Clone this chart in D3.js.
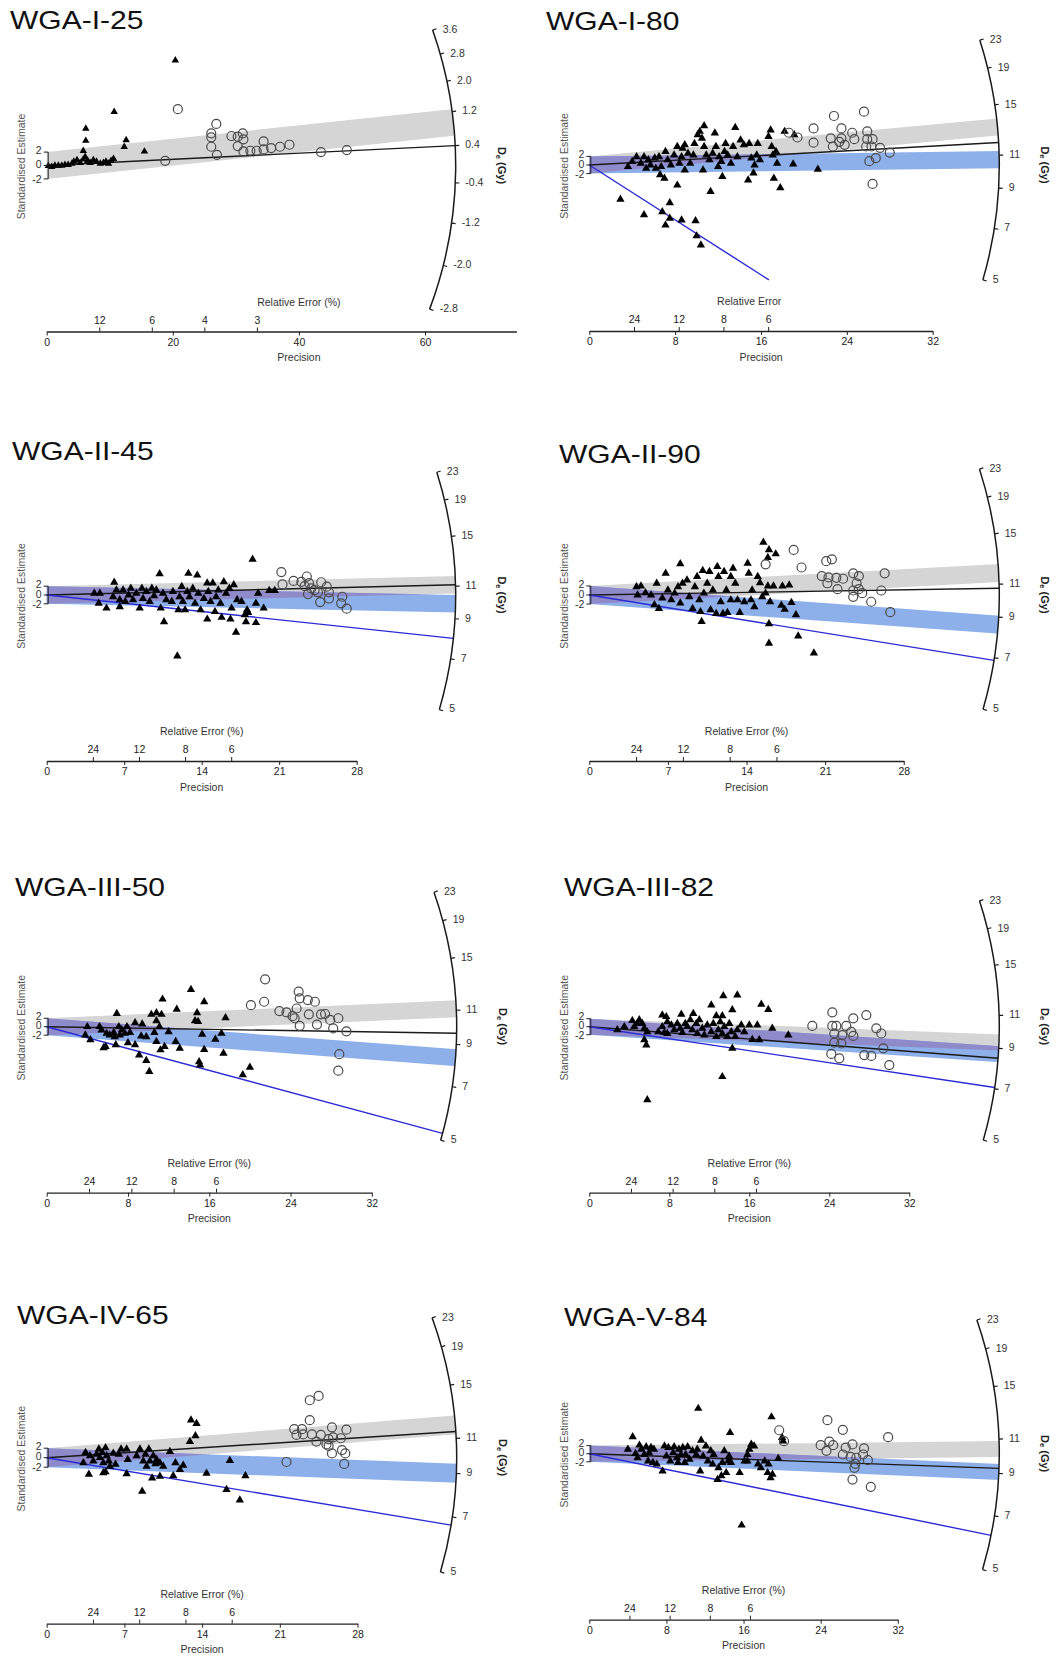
<!DOCTYPE html>
<html>
<head>
<meta charset="utf-8">
<script src="https://cdn.jsdelivr.net/npm/d3@7"></script>
<style>
  body { margin: 0; background: #fff; }
  svg { display: block; }
  text { font-family: "Liberation Sans", Arial, sans-serif; }
</style>
</head>
<body>
<svg id="chart" width="1062" height="1661"></svg>
<script>
// ---- data ----
const titles = ["WGA-I-25", "WGA-I-80", "WGA-II-45", "WGA-II-90", "WGA-III-50", "WGA-III-82", "WGA-IV-65", "WGA-V-84"];
const relErrTitles = ["Relative Error (%)", "Relative Error", "Relative Error (%)", "Relative Error (%)",
                      "Relative Error (%)", "Relative Error (%)", "Relative Error (%)", "Relative Error (%)"];
const precisionTicks = [[0, 20, 40, 60], [0, 8, 16, 24, 32], [0, 7, 14, 21, 28], [0, 7, 14, 21, 28],
                        [0, 8, 16, 24, 32], [0, 8, 16, 24, 32], [0, 7, 14, 21, 28], [0, 8, 16, 24, 32]];
const relErrTicks = [[12, 6, 4, 3], [24, 12, 8, 6], [24, 12, 8, 6], [24, 12, 8, 6],
                     [24, 12, 8, 6], [24, 12, 8, 6], [24, 12, 8, 6], [24, 12, 8, 6]];
const deTicksI25 = [3.6, 2.8, 2.0, 1.2, 0.4, -0.4, -1.2, -2.0, -2.8];
const deTicks = [5, 7, 9, 11, 15, 19, 23];
const deOffset = [9.33, 0, 0, 0, 0, 0, 0, 0];          // log(De + offset) transform
const centralDe = [-0.036, 10.36, 10.42, 10.3, 9.99, 10.27, 9.85, 10.1];
const blackLineDe = [0.4, 11.88, 11.1, 10.73, 9.61, 8.47, 11.44, 9.27];
const greyBandDe = [0.94, 13.07, 11.1, 11.77, 11.1, 9.33, 11.88, 10.38];
const blueBandDe = [null, 10.7, 9.87, 8.6, 8.33, 8.68, 9.01, 9.08];
const blueLineDe = [null, 2.1, 7.97, 6.89, 5.23, 7.06, 6.67, 6.22];

// points: [precision, standardised estimate]
const triI25 = [[0.26,-0.07],[0.8,-0.2],[1.3,0],[1.85,0],[2.4,0],[2.9,0.1],[3.4,0.1],[4.0,0.3],[4.3,0.6],[4.8,0.8],
  [5.3,0.4],[5.8,0.9],[6.1,1.3],[6.5,0.7],[6.9,0.4],[7.4,0.8],[7.9,0.6],[8.5,0.3],[9.0,0.4],[9.4,0.6],[9.8,0.3],
  [10.2,0.7],[10.6,1.0],[20.4,15.7],[10.7,8.0],[6.2,5.5],[6.2,3.7],[5.8,2.2],[12.6,3.8],[12.3,2.8],[15.5,2.1]];
const circI25 = [[20.8,8.4],[18.8,0.7],[26.9,6.2],[26.1,4.8],[26.1,4.2],[26.1,2.8],[27.0,1.6],[29.3,4.4],[30.3,4.3],
  [31.1,4.8],[31.2,3.9],[30.3,2.9],[31.2,2.1],[32.3,2.2],[33.3,2.2],[34.4,2.4],[34.4,3.6],[35.6,2.6],[37.0,2.8],
  [38.5,3.1],[43.5,2.0],[47.6,2.3]];

const triI80 = [[2.9,-8.0],[5.1,-11.6],[6.8,-10.9],[7.5,-8.8],[7.1,-14.0],[7.5,-12.4],[8.6,-12.8],[9.9,-13.0],[10.0,-16.5],
  [10.4,-18.6],[3.6,-0.4],[4.0,0.8],[4.4,1.9],[4.8,0.4],[5.1,1.9],[5.3,-0.8],[5.5,1.2],[5.7,0],[6.1,1.6],[6.2,-0.8],
  [6.5,1.9],[6.6,-2.3],[6.7,-0.4],[7.0,-3.1],[7.1,3.1],[7.3,1.2],[7.6,0],[7.9,2.3],[8.2,4.3],[8.2,-4.7],[8.4,0.4],
  [8.6,1.9],[8.7,3.9],[8.9,4.7],[8.9,-1.2],[9.2,2.7],[9.4,0.4],[9.7,2.3],[9.8,5.0],[10.1,7.0],[10.3,7.8],[10.5,6.2],
  [10.6,-1.2],[10.7,9.1],[10.7,4.3],[10.9,2.3],[11.2,1.2],[11.3,-6.2],[11.5,2.7],[11.7,7.4],[11.8,4.3],[12.0,-0.4],
  [12.1,1.9],[12.3,0.8],[12.4,-2.7],[12.6,3.1],[12.7,5.0],[12.9,2.3],[13.2,0.4],[13.4,4.3],[13.6,8.7],[13.8,1.9],
  [14.1,5.8],[14.4,4.7],[14.8,-3.5],[14.9,5.0],[15.1,1.6],[15.3,-1.9],[15.4,0],[15.6,2.3],[15.7,5.0],[15.9,1.2],
  [16.7,6.6],[16.9,8.1],[17.0,4.3],[17.1,2.3],[17.2,-3.1],[17.4,3.1],[17.5,0.4],[17.8,-5.3],[18.2,7.8],[19.0,0.2],
  [19.1,7.0],[21.3,-1.0]];
const circI80 = [[18.6,7.5],[19.4,6.4],[20.9,8.5],[20.9,5.2],[22.8,11.4],[22.5,6.2],[22.7,4.3],[23.5,8.5],[23.5,6.2],
  [23.3,5.4],[23.8,4.7],[24.5,7.5],[24.7,6.0],[25.6,12.4],[25.9,7.8],[25.9,6.0],[25.8,4.3],[26.4,6.0],[26.3,4.3],
  [27.1,4.0],[28.0,2.9],[26.1,0.9],[26.7,1.6],[26.4,-4.4]];

const triII45 = [[18.6,8.1],[10.2,4.8],[12.8,4.9],[13.6,4.5],[6.1,2.9],[11.8,-13.9],[17.1,-8.5],[6.6,-2.7],[10.6,-6.1],
  [14.5,-5.5],[15.8,-5.1],[16.6,-5.5],[18.0,-6.1],[18.9,-6.3],[17.9,-4.5],[19.1,0.4],[19.6,-3.0],[18.9,-1.9],[20.1,1.0],
  [20.6,1.0],[4.3,0.4],[4.8,0.4],[4.7,-1.9],[5.4,-3.0],[6.0,-0.4],[6.3,1.1],[6.6,-1.1],[6.9,1.1],[7.1,-1.5],[7.4,0],
  [7.6,1.5],[7.8,-1.1],[8.1,0.4],[8.4,-3.0],[8.6,1.5],[8.7,-0.8],[9.0,0.8],[9.3,-1.5],[9.5,1.5],[9.7,-0.2],[9.9,1.1],
  [10.3,-3.0],[10.5,0.4],[10.8,-1.1],[11.3,-1.5],[11.4,0.8],[11.9,-3.4],[12.0,-0.4],[12.2,1.9],[12.3,-1.5],[12.5,-3.4],
  [12.7,0.8],[12.9,-0.4],[13.2,1.5],[13.4,-1.9],[13.7,0.4],[13.9,-3.4],[14.2,-0.8],[14.5,2.7],[14.6,0.8],[14.8,-1.5],
  [15.0,2.7],[15.2,-3.8],[15.3,-0.4],[15.5,1.1],[15.7,-1.9],[16.0,3.0],[16.2,0.4],[16.5,1.5],[16.7,-3.0],[16.9,2.3],
  [17.2,-1.1],[17.6,-1.5],[18.1,-3.4],[18.2,-4.0]];
const circII45 = [[21.2,5.2],[21.3,2.4],[22.3,3.2],[23.0,3.0],[23.5,4.2],[23.3,2.0],[23.7,2.7],[23.9,1.5],[23.6,0.2],
  [24.2,1.1],[24.8,2.9],[24.5,0.6],[24.7,-1.6],[25.3,1.9],[25.5,0.6],[25.5,-0.8],[26.7,-0.4],[26.6,-1.9],[27.1,-3.1]];

const triII90 = [[15.5,11.7],[15.9,8.3],[16.0,10.0],[16.6,9.1],[8.1,6.9],[6.8,4.8],[6.0,2.6],[4.2,1.8],[4.6,2.0],[4.3,0],
  [5.0,0.5],[5.5,0],[5.8,-2.2],[6.2,-3.0],[6.5,-0.7],[7.0,1.1],[7.3,-1.1],[7.6,0.4],[7.9,1.8],[8.1,-1.8],[8.3,2.6],
  [8.7,3.3],[8.9,-0.4],[9.2,-3.0],[9.4,1.8],[9.6,4.1],[9.8,-1.1],[9.9,-3.7],[10.0,-5.9],[10.1,5.4],[10.2,0.4],[10.5,2.6],
  [10.7,5.2],[10.8,-3.3],[11.0,1.1],[11.3,-4.1],[11.4,6.3],[11.5,4.1],[11.7,-1.5],[11.9,-4.1],[12.0,5.2],[12.2,1.1],
  [12.3,-3.9],[12.6,4.1],[12.6,-1.1],[12.8,5.9],[13.0,2.6],[13.2,-1.1],[13.4,-3.9],[13.8,-1.5],[14.1,7.0],[14.2,4.8],
  [14.4,-1.1],[14.5,1.1],[14.7,-2.6],[15.0,4.1],[15.2,2.7],[15.4,-0.4],[15.7,0.4],[15.9,2.0],[16.1,-1.5],[16.0,-6.4],
  [16.0,-10.7],[16.4,2.0],[17.1,-2.3],[17.2,2.0],[17.4,-3.2],[17.8,2.2],[18.0,-1.7],[18.4,-4.4],[18.6,-9.1],[20.0,-12.9]];
const circII90 = [[15.7,6.8],[18.2,10.0],[18.9,6.1],[21.1,7.5],[21.6,7.9],[20.7,4.2],[21.3,3.9],[21.2,2.6],[22.0,3.8],
  [22.6,3.6],[22.1,1.3],[23.5,4.8],[24.0,4.2],[23.8,2.6],[23.5,1.0],[24.0,1.3],[24.3,0.4],[23.5,-0.4],[25.1,-1.5],
  [26.0,1.0],[26.3,4.8],[26.8,-3.8]];

const triIII50 = [[14.2,8.8],[11.4,6.5],[15.5,5.9],[12.8,4.1],[6.9,3.1],[10.3,2.9],[10.8,3.3],[11.3,2.9],[14.8,3.3],
  [17.6,2.1],[14.6,1.4],[14.9,1.2],[10.8,1.4],[8.7,0.9],[9.4,0.6],[4.0,0],[5.2,0],[5.4,-0.8],[3.8,-2.0],[4.3,-3.1],
  [5.9,-1.6],[6.2,-2.0],[6.6,-1.4],[6.7,-2.4],[7.1,0],[7.2,-2.0],[7.4,-0.8],[7.7,-1.6],[7.9,0],[8.2,-1.4],[5.6,-5.0],
  [5.8,-4.7],[6.8,-4.3],[8.0,-3.8],[8.7,-4.3],[9.1,-6.7],[9.8,-8.0],[10.1,-10.6],[9.3,-2.2],[9.8,-2.4],[10.6,-1.4],
  [10.8,-3.5],[11.1,0],[11.2,-5.5],[11.6,-4.7],[12.0,-1.2],[12.7,-3.5],[13.1,-5.1],[15.0,-8.3],[15.1,-9.1],[15.5,-5.4],
  [15.3,-1.8],[16.6,-3.0],[17.2,-1.6],[17.4,-6.3],[19.3,-11.4],[20.0,-9.6]];
const circIII50 = [[21.5,11.2],[21.4,5.9],[20.1,5.1],[22.9,3.7],[23.6,3.4],[24.2,2.5],[24.8,8.3],[24.9,6.7],[24.6,4.3],
  [24.4,2.0],[24.9,0.2],[25.7,6.3],[26.4,5.9],[25.8,2.9],[26.6,0.5],[27.0,2.9],[27.4,3.0],[27.9,1.6],[28.7,2.0],
  [28.2,-0.4],[29.5,-1.1],[28.8,-6.5],[28.7,-10.4]];

const triIII82 = [[13.4,7.7],[14.8,7.9],[12.2,5.4],[14.3,4.2],[17.2,5.6],[17.9,4.3],[12.7,2.7],[13.3,2.7],[9.2,3.1],
  [10.4,3.3],[7.3,2.9],[7.7,2.5],[4.3,1.5],[5.0,1.7],[2.8,-0.8],[3.5,0],[4.5,0],[4.8,0.8],[5.3,0.8],[5.5,-0.4],
  [5.8,-1.3],[5.5,-3.3],[5.7,-4.6],[5.8,-18.3],[6.9,-1.3],[7.3,0],[7.5,-1.5],[7.8,-1.7],[7.8,1.2],[8.2,0.4],[8.5,-0.8],
  [8.8,0.8],[9.1,-0.4],[9.3,-1.5],[9.6,0.8],[9.8,0],[10.1,1.7],[10.3,-0.8],[10.7,0.8],[10.8,-1.7],[11.0,1.7],[11.3,-0.4],
  [11.5,-2.1],[11.8,0.4],[12.2,-1.3],[12.4,0.8],[12.7,-2.5],[12.9,-0.8],[13.1,1.2],[13.3,-1.7],[13.5,0],[13.8,-2.5],
  [14.0,0.8],[14.2,-1.3],[14.3,-5.4],[14.6,-2.5],[14.8,-0.8],[15.2,0.4],[15.5,-1.3],[16.0,0.4],[16.3,-3.2],[16.8,0.4],
  [17.0,-3.3],[18.3,-0.4],[19.9,-2.1],[13.3,-12.5]];
const circIII82 = [[22.3,0.2],[24.3,3.6],[24.3,0.2],[24.7,0.2],[24.5,-1.7],[25.7,0.2],[25.3,-2.1],[25.2,-4.2],[24.5,-4.0],
  [24.2,-6.8],[25.0,-7.9],[26.4,2.1],[26.2,-1.3],[26.4,-2.3],[27.7,2.9],[28.7,-0.4],[29.2,-1.7],[29.4,-5.4],[27.5,-7.1],
  [28.2,-7.3],[30.0,-9.6]];

const triIV65 = [[13.0,7.9],[13.5,7.2],[13.4,4.6],[12.9,3.4],[11.1,1.3],[16.5,-0.6],[3.5,1.1],[3.9,0.4],[3.3,-1.1],
  [3.8,-3.5],[4.2,-0.7],[4.5,0.7],[4.7,1.8],[4.8,0],[5.0,1.1],[5.1,-1.1],[5.3,2.1],[5.4,0.4],[5.6,-0.7],[5.1,-3.2],
  [5.3,-3.0],[5.7,-1.8],[6.0,0.9],[6.2,-1.4],[6.5,0.7],[6.7,1.8],[7.2,1.8],[7.3,-0.4],[7.2,-3.4],[8.1,0.4],[8.4,1.8],
  [8.6,-7.1],[8.7,-0.7],[8.9,0.7],[9.0,-1.8],[9.2,1.8],[9.3,-0.7],[9.5,-4.3],[9.6,0.4],[9.8,-1.3],[9.9,-0.4],[10.2,-3.9],
  [10.2,-1.1],[10.5,-1.8],[11.6,-1.1],[11.4,-3.8],[12.0,-2.5],[12.3,-1.6],[14.4,-3.3],[16.2,-6.7],[17.9,-3.8],[17.4,-8.9]];
const circIV65 = [[21.6,-0.9],[23.7,12.1],[24.5,13.0],[23.7,7.9],[22.3,6.0],[23.0,6.0],[22.5,4.8],[23.1,4.9],[23.9,4.9],
  [24.3,3.4],[24.7,4.8],[25.2,2.8],[25.4,3.9],[25.7,6.4],[25.8,4.3],[25.7,0.9],[26.5,4.1],[27.0,5.9],[26.6,1.6],
  [26.9,0.9],[26.8,-1.3],[25.4,2.5]];

const triV84 = [[11.3,11.2],[18.9,9.1],[4.5,4.2],[14.6,5.2],[11.6,3.3],[20.0,4.0],[20.1,3.1],[4.0,1.1],[5.2,2.1],[5.4,1.1],
  [5.9,1.7],[6.4,1.5],[6.7,1.1],[4.8,0],[5.0,-1.0],[5.7,-0.2],[6.1,-1.8],[6.2,0.2],[6.6,-2.2],[7.0,-2.6],[7.6,-4.3],
  [7.8,1.9],[8.0,-0.6],[8.2,1.5],[8.4,-1.8],[8.7,0.2],[8.8,1.7],[9.1,-1.0],[9.2,-2.2],[9.3,1.1],[9.5,-0.2],[9.7,1.5],
  [9.9,-2.2],[10.0,-0.2],[10.2,1.7],[10.4,-1.4],[10.7,0.7],[11.1,-0.2],[11.2,1.1],[11.5,-4.3],[11.8,-0.6],[12.1,1.9],
  [12.3,-1.8],[12.6,0.7],[12.8,-2.6],[12.9,-0.2],[13.3,-6.4],[13.4,-3.5],[13.7,-5.5],[13.8,-2.2],[14.0,0.7],[14.2,-4.7],
  [14.4,-1.8],[14.5,-0.6],[14.7,-2.2],[15.6,-4.7],[15.8,-17.7],[16.1,-1.8],[16.4,-0.2],[16.6,1.1],[16.8,2.3],[17.1,1.9],
  [17.5,-2.6],[17.8,-3.5],[18.2,-1.8],[18.6,-2.6],[18.5,-4.7],[18.8,-6.0],[19.0,-5.1],[19.6,-1.2],[16.4,-1.8]];
const circV84 = [[19.7,5.8],[20.2,3.1],[24.7,8.3],[26.3,5.9],[24.0,2.1],[24.6,0.7],[24.9,3.0],[25.3,2.1],[26.3,-0.2],
  [26.6,1.5],[27.3,2.3],[27.1,-0.8],[27.7,-1.0],[27.6,-2.5],[27.5,-3.5],[28.5,1.3],[28.4,-0.2],[28.9,-1.6],[27.3,-6.4],
  [29.2,-8.2],[31.0,4.1]];

const triangles = [triI25, triI80, triII45, triII90, triIII50, triIII82, triIV65, triV84];
const circles = [circI25, circI80, circII45, circII90, circIII50, circIII82, circIV65, circV84];

// ---- layout (pixels) ----
const layout = [
  { ox: 46.7,  oy: 165.5,  kx: 6.305, ky: 6.7,  R: 409, axisEnd: 74.5, labelAt: 40, reAt: 40,   tx: 10,  ty: 28.5, tri: 24 },
  { ox: 589.3, oy: 165,    kx: 10.73, ky: 4.3,  R: 410, axisEnd: 32,   labelAt: 16, reAt: 14.9, tx: 546, ty: 30,   tri: 30 },
  { ox: 46.7,  oy: 595,    kx: 11.07, ky: 4.4,  R: 409, axisEnd: 28,   labelAt: 14, reAt: 14,   tx: 12,  ty: 460,  tri: 30 },
  { ox: 589.3, oy: 595,    kx: 11.23, ky: 4.51, R: 410, axisEnd: 28,   labelAt: 14, reAt: 14,   tx: 559, ty: 463,  tri: 30 },
  { ox: 46.7,  oy: 1026.7, kx: 10.16, ky: 4.23, R: 410, axisEnd: 32,   labelAt: 16, reAt: 16,   tx: 15,  ty: 896,  tri: 30 },
  { ox: 589.3, oy: 1026.7, kx: 10.0,  ky: 4.0,  R: 410, axisEnd: 32,   labelAt: 16, reAt: 16,   tx: 564, ty: 896,  tri: 30 },
  { ox: 46.7,  oy: 1457.7, kx: 11.1,  ky: 4.75, R: 410, axisEnd: 28,   labelAt: 14, reAt: 14,   tx: 17,  ty: 1324, tri: 30 },
  { ox: 589.3, oy: 1453.7, kx: 9.64,  ky: 4.04, R: 410, axisEnd: 32,   labelAt: 16, reAt: 16,   tx: 564, ty: 1326, tri: 30 }
];

const svg = d3.select("#chart");
svg.append("rect").attr("width", 1062).attr("height", 1661).attr("fill", "#fff");

titles.forEach((t, i) => drawRadial(i));

function drawRadial(i) {
  const L = layout[i];
  const g = svg.append("g");
  const x = d3.scaleLinear().domain([0, 1]).range([L.ox, L.ox + L.kx]);
  const y = d3.scaleLinear().domain([0, 1]).range([L.oy, L.oy - L.ky]);
  const c = deOffset[i], d0 = centralDe[i];
  const slope = D => Math.log((D + c) / (d0 + c));
  // unit pixel direction of the ray for a De value
  const dir = D => {
    const dx = x(1) - x(0), dy = y(slope(D)) - y(0);
    const n = Math.hypot(dx, dy);
    return [dx / n, dy / n];
  };
  const ticks = i === 0 ? deTicksI25 : deTicks;
  const R = L.R;
  const lowY = L.oy + R * dir(d3.min(ticks))[1];

  // clip everything inside the arc
  const clipId = "arcclip" + i;
  svg.append("clipPath").attr("id", clipId)
    .append("circle").attr("cx", L.ox).attr("cy", L.oy).attr("r", R);

  const pEnd = R * 1.3 / L.kx;
  const band = D => {
    const s = slope(D);
    return d3.line().x(d => x(d[0])).y(d => y(d[1]))([[0, -2], [0, 2], [pEnd, s * pEnd + 2], [pEnd, s * pEnd - 2]]) + "Z";
  };

  //bands
  const bands = g.append("g").attr("clip-path", `url(#${clipId})`);
  bands.append("path").attr("d", band(greyBandDe[i])).attr("fill", "#d5d5d5");
  if (blueBandDe[i] != null) {
    bands.append("path").attr("d", band(blueBandDe[i])).attr("fill", "#8db0ea");
    const ovId = "ov" + i;
    svg.append("clipPath").attr("id", ovId).append("path").attr("d", band(greyBandDe[i]));
    bands.append("path").attr("d", band(blueBandDe[i]))
      .attr("fill", "#8f8aca").attr("clip-path", `url(#${ovId})`);
  }

  //rays
  const ray = (D, color) => {
    const u = dir(D);
    let t = R;
    if (L.oy + t * u[1] > lowY) t = (lowY - L.oy) / u[1];
    g.append("line")
      .attr("x1", x(0)).attr("y1", y(0))
      .attr("x2", L.ox + t * u[0]).attr("y2", L.oy + t * u[1])
      .attr("stroke", color).attr("stroke-width", 1.4);
  };
  ray(blackLineDe[i], "#1a1a1a");
  if (blueLineDe[i] != null) ray(blueLineDe[i], "#2b2bd6");

  //points
  g.append("g").selectAll("path")
    .data(triangles[i])
    .join("path")
    .attr("transform", d => `translate(${x(d[0])},${y(d[1])})`)
    .attr("d", d3.symbol(d3.symbolTriangle, L.tri))
    .attr("fill", "#000");

  g.append("g").selectAll("circle")
    .data(circles[i])
    .join("circle")
    .attr("cx", d => x(d[0]))
    .attr("cy", d => y(d[1]))
    .attr("r", 4.5)
    .attr("fill", "none")
    .attr("stroke", "#4a4a4a")
    .attr("stroke-width", 1.2);

  //De arc
  const top = dir(d3.max(ticks)), bot = dir(d3.min(ticks));
  const p = d3.path();
  p.arc(L.ox, L.oy, R, Math.atan2(top[1], top[0]), Math.atan2(bot[1], bot[0]));
  g.append("path").attr("d", p.toString()).attr("fill", "none").attr("stroke", "#1a1a1a").attr("stroke-width", 1.5);

  const arcTicks = g.append("g");
  ticks.forEach(t => {
    const u = dir(t);
    arcTicks.append("line")
      .attr("x1", L.ox + R * u[0]).attr("y1", L.oy + R * u[1])
      .attr("x2", L.ox + (R + 4) * u[0]).attr("y2", L.oy + (R + 4) * u[1])
      .attr("stroke", "#1a1a1a").attr("stroke-width", 1.2);
    arcTicks.append("text")
      .attr("x", L.ox + R * u[0] + 10).attr("y", L.oy + R * u[1])
      .attr("dominant-baseline", "middle")
      .attr("font-size", 10.5).attr("fill", "#333")
      .text(i === 0 ? t.toFixed(1) : t);
  });

  const deLab = g.append("text")
    .attr("transform", `translate(${L.ox + R + 45},${L.oy}) rotate(90)`)
    .attr("text-anchor", "middle").attr("dominant-baseline", "middle")
    .attr("font-size", 11).attr("font-weight", "bold").attr("fill", "#222");
  deLab.append("tspan").text("D");
  deLab.append("tspan").attr("font-size", 7.5).attr("dy", 2.5).text("e");
  deLab.append("tspan").attr("dy", -2.5).text(" (Gy)");

  //y bracket
  g.append("path")
    .attr("d", `M${L.ox - 3},${y(2)}H${L.ox + 1.5}V${y(-2)}H${L.ox - 3}M${L.ox - 3},${y(0)}H${L.ox + 1.5}`)
    .attr("fill", "none").attr("stroke", "#222").attr("stroke-width", 1);
  [[2, -1], [0, 0], [-2, 1.5]].forEach(([v, off]) => {
    g.append("text")
      .attr("x", L.ox - 5).attr("y", y(v) + off)
      .attr("text-anchor", "end").attr("dominant-baseline", "middle")
      .attr("font-size", 10.5).attr("fill", "#333")
      .text(v);
  });
  g.append("text")
    .attr("transform", `translate(${L.ox - 24},${L.oy + 1}) rotate(-90)`)
    .attr("text-anchor", "middle").attr("dominant-baseline", "middle")
    .attr("font-size", 10.5).attr("fill", "#555")
    .text("Standardised Estimate");

  //precision axis
  const axisY = L.oy + 166;
  const px = d3.scaleLinear().domain([0, L.axisEnd]).range([x(0), x(L.axisEnd)]);
  const ax = g.append("g")
    .attr("transform", `translate(0,${axisY})`)
    .call(d3.axisBottom(px).tickValues(precisionTicks[i]).tickSize(4).tickSizeOuter(0).tickFormat(d3.format("d")));
  ax.select(".domain").attr("stroke", "#222").attr("stroke-width", 1.3);
  ax.selectAll(".tick line").attr("stroke", "#222");
  ax.selectAll("text").attr("font-size", 10.5).attr("fill", "#222").attr("y", 7)
    .style("font-family", "'Liberation Sans', Arial, sans-serif");

  const re = relErrTicks[i];
  const rx = g.append("g")
    .attr("transform", `translate(0,${axisY})`)
    .call(d3.axisTop(px).tickValues(re.map(r => 100 / r)).tickSize(4).tickFormat((d, j) => re[j]));
  rx.select(".domain").remove();
  rx.selectAll(".tick line").attr("stroke", "#222");
  rx.selectAll("text").attr("font-size", 10.5).attr("fill", "#222").attr("y", -8)
    .style("font-family", "'Liberation Sans', Arial, sans-serif");

  g.append("text")
    .attr("x", px(L.reAt)).attr("y", axisY - 28.5)
    .attr("text-anchor", "middle").attr("dominant-baseline", "middle")
    .attr("font-size", 10.5).attr("fill", "#333")
    .text(relErrTitles[i]);
  g.append("text")
    .attr("x", px(L.labelAt)).attr("y", axisY + 27)
    .attr("text-anchor", "middle").attr("dominant-baseline", "middle")
    .attr("font-size", 10.5).attr("fill", "#333")
    .text("Precision");

  //title
  g.append("text")
    .attr("transform", `translate(${L.tx},${L.ty}) scale(1.2,1)`)
    .attr("font-size", 25).attr("fill", "#111")
    .text(titles[i]);
}
</script>
</body>
</html>
